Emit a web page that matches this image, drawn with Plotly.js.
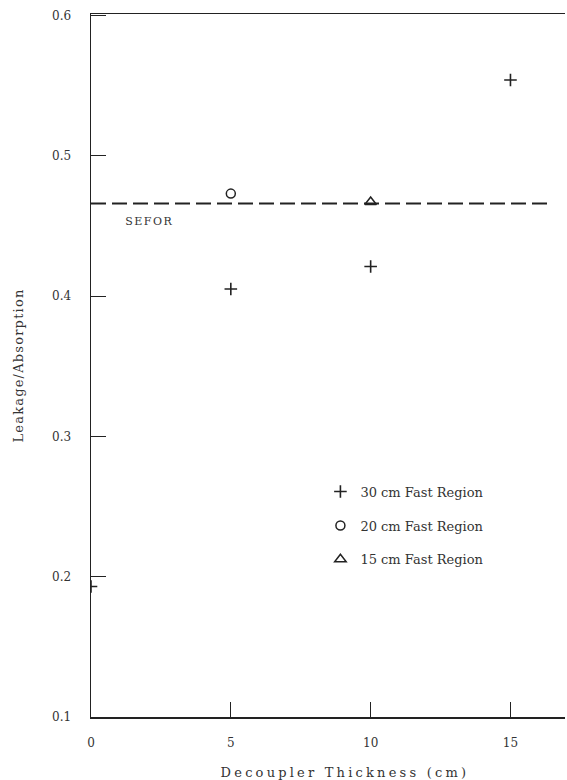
<!DOCTYPE html>
<html>
<head>
<meta charset="utf-8">
<script src="https://cdn.plot.ly/plotly-3.0.1.min.js"></script>
<style>
  html, body { margin: 0; padding: 0; background: #fff; }
  #chart { width: 567px; height: 780px; }
  /* typewriter-like wide spacing for the titles */
  #chart text.ytitle { letter-spacing: 1.2px; }
  #chart text.annotation-text { letter-spacing: 1.5px; }
  #chart g.xlabel text.annotation-text { letter-spacing: 3.2px; }
</style>
</head>
<body>
<div id="chart"></div>
<script>
// Leakage/absorption ratio versus decoupler thickness
const thickness30 = [0, 5, 10, 15];
const ratio30 = [0.193, 0.405, 0.421, 0.554];

const thickness20 = [5];
const ratio20 = [0.473];

const thickness15 = [10];
const ratio15 = [0.467];

// SEFOR reference level
const seforX = [0, 16.4];
const seforY = [0.466, 0.466];

const xTicks = [0, 5, 10, 15];
const yTicks = [0.1, 0.2, 0.3, 0.4, 0.5, 0.6];

const ink = '#222';
const serif = 'DejaVu Serif, Liberation Serif, serif';

const traces = [
  {
    x: seforX, y: seforY, mode: 'lines', showlegend: false, hoverinfo: 'skip',
    line: { color: ink, width: 2, dash: '15px,6px' }
  },
  {
    x: thickness30, y: ratio30, mode: 'markers', name: '30 cm Fast Region',
    legendgroup: 'a',
    marker: { symbol: 'cross-thin-open', size: 9, color: ink, line: { color: ink, width: 1.6 } }
  },
  {
    x: thickness20, y: ratio20, mode: 'markers', name: '20 cm Fast Region',
    legendgroup: 'b',
    marker: { symbol: 'circle-open', size: 9, color: ink, line: { color: ink, width: 1.5 } }
  },
  {
    x: thickness15, y: ratio15, mode: 'markers', name: '15 cm Fast Region',
    legendgroup: 'c',
    marker: { symbol: 'triangle-up-open', size: 10, color: ink, line: { color: ink, width: 1.5 } }
  }
];

const layout = {
  width: 567, height: 780,
  margin: { l: 91, r: 2, t: 14, b: 63 },
  paper_bgcolor: '#fff', plot_bgcolor: '#fff',
  font: { family: serif, size: 12, color: '#333' },
  showlegend: true,
  legend: {
    x: 0.484, xanchor: 'left', y: 0.342, yanchor: 'top',
    bgcolor: 'rgba(0,0,0,0)', borderwidth: 0,
    tracegroupgap: 14,
    font: { family: serif, size: 13, color: '#333' }
  },
  xaxis: {
    range: [0, 16.95],
    tickvals: xTicks, ticktext: xTicks.map(String),
    ticks: 'inside', ticklen: 15, tickwidth: 1, tickcolor: ink,
    showline: true, linecolor: ink, linewidth: 1.5, mirror: true,
    showgrid: false, zeroline: false,
    ticklabelstandoff: 14,
    tickfont: { family: serif, size: 12, color: '#333' }
  },
  yaxis: {
    range: [0.1, 0.601],
    tickvals: yTicks, tickformat: '.1f',
    ticks: 'inside', ticklen: 15, tickwidth: 1, tickcolor: ink,
    showline: true, linecolor: ink, linewidth: 1.5, mirror: false,
    showgrid: false, zeroline: false,
    ticklabelstandoff: 16,
    tickfont: { family: serif, size: 12, color: '#333' },
    title: { text: 'Leakage/Absorption', standoff: 25,
             font: { family: serif, size: 13, color: '#333' } }
  },
  annotations: [
    {
      x: 2.1, y: 0.453, xref: 'x', yref: 'y', text: 'SEFOR', showarrow: false,
      font: { family: serif, size: 11, color: '#333' }
    },
    {
      // horizontal axis title
      name: 'xlabel', captureevents: false,
      x: 0.536, y: 0, xref: 'paper', yref: 'paper', yanchor: 'middle',
      text: 'Decoupler Thickness (cm)', showarrow: false,
      font: { family: serif, size: 13, color: '#333' }
    }
  ]
};

// the x title sits 55 px below the plot area; express that in paper units
const plotH = layout.height - layout.margin.t - layout.margin.b;
layout.annotations[1].y = -(772 - (layout.height - layout.margin.b)) / plotH;

Plotly.newPlot('chart', traces, layout, { displayModeBar: false, staticPlot: true }).then(gd => {
  // tag the x title annotation so its letter spacing can be styled
  const groups = gd.querySelectorAll('g.annotation');
  if (groups[1]) groups[1].classList.add('xlabel');
});
</script>
</body>
</html>
